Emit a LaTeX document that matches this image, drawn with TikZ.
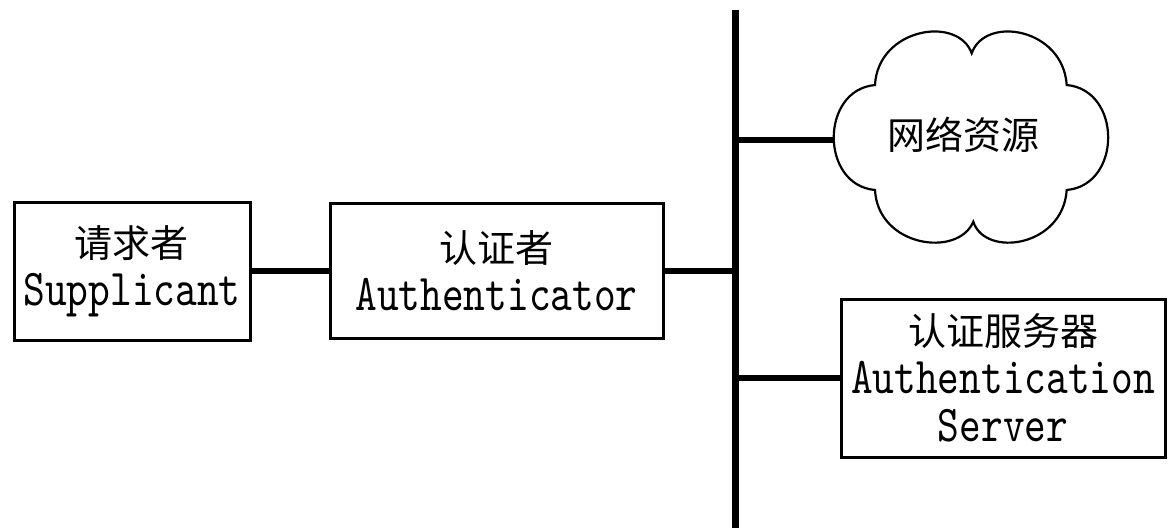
\documentclass[tikz,border=0pt]{standalone}
\usepackage{fontspec}
\setmainfont{lmmono10-regular.otf}[FakeStretch=0.8]
\newfontfamily\cjk{Noto Sans CJK SC}
\newcommand{\zhtxt}[1]{{\cjk\fontsize{38}{48}\selectfont #1}}
\tikzset{
  box/.style={draw, line width=3pt, inner sep=0pt, align=center,
    font=\fontsize{51.7}{48}\selectfont},
  conn/.style={line width=6pt},
  busline/.style={line width=7pt},
  cloudline/.style={line width=2.2pt, line join=miter}
}
\begin{document}
\begin{tikzpicture}[x=1pt,y=-1pt]
\useasboundingbox (0,0) rectangle (1168,528);
\node[box, minimum width=236pt, minimum height=138pt] (sup) at (132,271) {\zhtxt{请求者}\\Supplicant};
\node[box, minimum width=333pt, minimum height=135pt] (auth) at (496.5,270.5) {\zhtxt{认证者}\\Authenticator};
\node[box, minimum width=324pt, minimum height=158pt] (srv) at (1003,378) {\zhtxt{认证服务器}\\Authentication\\Server};
\coordinate (bustop) at (735,10);
\coordinate (busbot) at (735,528);
\coordinate (cloudL) at (833,140);
\node[inner sep=0pt] (res) at (963,135) {\zhtxt{网络资源}};
% cloud
\draw[cloudline] (875,85) .. controls (878,28) and (958,15) .. (971.7,53.3)
  .. controls (985,15) and (1063,28) .. (1066.7,85)
  .. controls (1122,90) and (1122,185) .. (1066.7,190)
  .. controls (1063,247) and (985,258) .. (973.3,221.7)
  .. controls (958,258) and (878,247) .. (875,190)
  .. controls (820,185) and (820,90) .. cycle;
\draw[busline] (bustop) -- (busbot);
\draw[conn] (sup.east) -- (sup.east -| auth.west);
\draw[conn] (auth.east) -- (auth.east -| bustop);
\draw[conn] (cloudL -| bustop) -- (cloudL);
\draw[conn] (srv.west -| bustop) -- (srv.west);
\end{tikzpicture}
\end{document}
